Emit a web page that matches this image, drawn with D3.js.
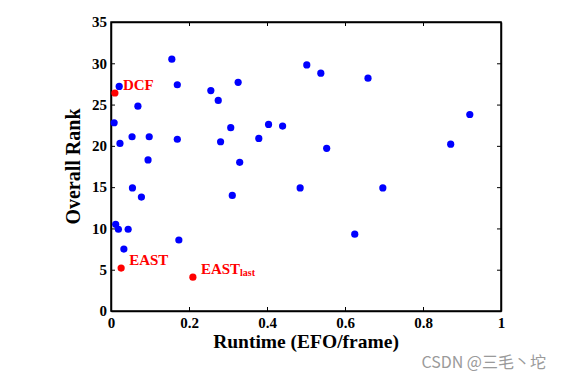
<!DOCTYPE html>
<html>
<head>
<meta charset="utf-8">
<script src="https://cdn.jsdelivr.net/npm/d3@7"></script>
<style>
  body { margin: 0; background: #fff; }
  svg { display: block; }
  .tick text { font-family: "Liberation Serif", "Times New Roman", serif; font-weight: bold; font-size: 15px; fill: #000; }
</style>
</head>
<body>
<div id="chart"></div>
<script>
// runtime (EFO/frame) and overall rank of the other trackers
const runtimes = [0.156, 0.021, 0.069, 0.008, 0.326, 0.256, 0.275, 0.170, 0.502,
  0.538, 0.659, 0.054, 0.098, 0.023, 0.170, 0.307, 0.281, 0.379, 0.404,
  0.440, 0.553, 0.330, 0.095, 0.871, 0.920, 0.055, 0.078, 0.485, 0.697,
  0.311, 0.012, 0.019, 0.044, 0.033, 0.174, 0.625];
const ranks = [30.5, 27.2, 24.8, 22.8, 27.7, 26.7, 25.5, 27.4, 29.8,
  28.8, 28.2, 21.1, 21.1, 20.3, 20.8, 22.2, 20.5, 20.9, 22.6,
  22.4, 19.7, 18.0, 18.3, 20.2, 23.8, 14.9, 13.8, 14.9, 14.9,
  14.0, 10.5, 9.9, 9.9, 7.5, 8.6, 9.3];

// highlighted trackers
const hiNames = ["DCF", "EAST", "EAST"];
const hiSubs = ["", "", "last"];
const hiRuntimes = [0.010, 0.026, 0.210];
const hiRanks = [26.4, 5.2, 4.1];

const xTicks = [0, 0.2, 0.4, 0.6, 0.8, 1];
const yTicks = [0, 5, 10, 15, 20, 25, 30, 35];

const W = 564, H = 382;
const margin = { top: 22, right: 63, bottom: 71, left: 111 };
const w = W - margin.left - margin.right;
const h = H - margin.top - margin.bottom;
const serif = '"Liberation Serif", "Times New Roman", serif';

const svg = d3.select("#chart").append("svg")
  .attr("width", W)
  .attr("height", H);

const g = svg.append("g").attr("transform", `translate(${margin.left},${margin.top})`);

const x = d3.scaleLinear().domain([0, 1]).range([0, w]);
const y = d3.scaleLinear().domain([0, 35]).range([h, 0]);

// axes (ticks point inward, box all round)
const fmtX = d => d === 0 || d === 1 ? d3.format("d")(d) : d3.format(".1f")(d);

g.append("g")
  .attr("transform", `translate(0,${h})`)
  .call(d3.axisBottom(x).tickValues(xTicks).tickFormat(fmtX).tickSizeInner(-4).tickSizeOuter(0).tickPadding(6));
g.append("g")
  .call(d3.axisTop(x).tickValues(xTicks.slice(1, -1)).tickFormat("").tickSizeInner(-4).tickSizeOuter(0));
g.append("g")
  .call(d3.axisLeft(y).tickValues(yTicks).tickSizeInner(-4).tickSizeOuter(0).tickPadding(4));
g.append("g")
  .attr("transform", `translate(${w},0)`)
  .call(d3.axisRight(y).tickValues(yTicks.slice(1, -1)).tickFormat("").tickSizeInner(-4).tickSizeOuter(0));

g.selectAll(".domain").attr("stroke", "#000").attr("stroke-width", 1.5);
g.selectAll(".tick line").attr("stroke", "#000").attr("stroke-width", 1);

g.append("rect")
  .attr("width", w)
  .attr("height", h)
  .attr("fill", "none")
  .attr("stroke", "#000")
  .attr("stroke-width", 1.5);

// blue points
g.selectAll(".pt")
  .data(runtimes.map((r, i) => ({ r, k: ranks[i] })))
  .enter()
  .append("circle")
  .attr("class", "pt")
  .attr("cx", d => x(d.r))
  .attr("cy", d => y(d.k))
  .attr("r", 3.6)
  .attr("fill", "#0000ff");

// red highlighted points + labels
const hi = hiNames.map((n, i) => ({ n, s: hiSubs[i], r: hiRuntimes[i], k: hiRanks[i] }));

g.selectAll(".hi")
  .data(hi)
  .enter()
  .append("circle")
  .attr("class", "hi")
  .attr("cx", d => x(d.r))
  .attr("cy", d => y(d.k))
  .attr("r", 3.6)
  .attr("fill", "#ff0000");

const lbl = g.selectAll(".hi-label")
  .data(hi)
  .enter()
  .append("text")
  .attr("class", "hi-label")
  .attr("x", d => x(d.r) + 8)
  .attr("y", d => y(d.k) - 3)
  .attr("fill", "#ff0000")
  .style("font-family", serif)
  .style("font-weight", "bold")
  .style("font-size", "15px");

lbl.append("tspan").text(d => d.n);
lbl.append("tspan")
  .attr("dy", 2)
  .style("font-size", "10px")
  .text(d => d.s);

// axis titles
svg.append("text")
  .attr("x", margin.left + w / 2)
  .attr("y", 348)
  .attr("text-anchor", "middle")
  .style("font-family", serif)
  .style("font-weight", "bold")
  .style("font-size", "19.5px")
  .text("Runtime (EFO/frame)");

svg.append("text")
  .attr("transform", `translate(80,${margin.top + h / 2}) rotate(-90)`)
  .attr("text-anchor", "middle")
  .style("font-family", serif)
  .style("font-weight", "bold")
  .style("font-size", "20px")
  .text("Overall Rank");

// watermark
svg.append("text")
  .attr("x", 546)
  .attr("y", 368)
  .attr("text-anchor", "end")
  .attr("fill", "#9a9a9a")
  .style("font-family", '"Noto Sans CJK SC", "Noto Sans", sans-serif')
  .style("font-size", "16px")
  .text("CSDN @三毛丶坨");
</script>
</body>
</html>
